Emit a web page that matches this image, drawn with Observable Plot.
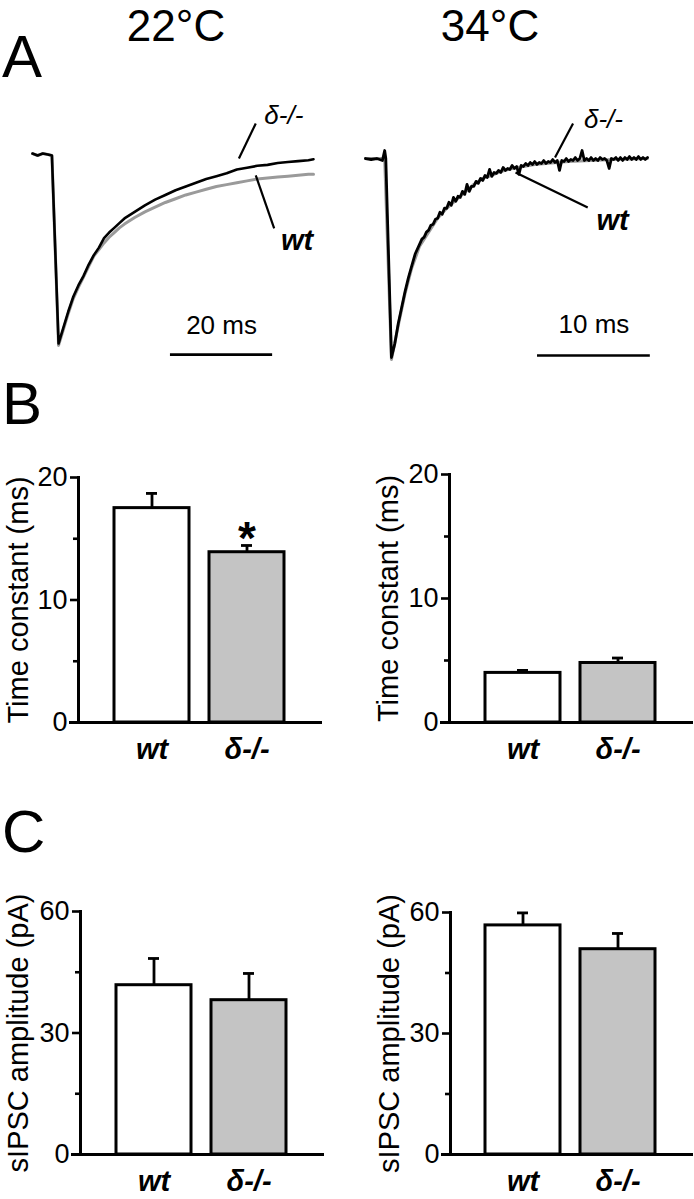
<!DOCTYPE html>
<html>
<head>
<meta charset="utf-8">
<script src="https://cdn.jsdelivr.net/npm/d3@7"></script>
<script src="https://cdn.jsdelivr.net/npm/@observablehq/plot@0.6"></script>
<style>
  html, body { margin: 0; padding: 0; background: white; }
  #fig { position: relative; width: 694px; height: 1199px; overflow: hidden; background: white; }
  .panel { position: absolute; }
  .panel svg { overflow: visible; }
</style>
</head>
<body>
<div id="fig"></div>
<script>
// ---------------- DATA ----------------
const temperatures = ["22°C", "34°C"];
const panelLetters = ["A", "B", "C"];
const genotypes = ["wt", "δ-/-"];

// Panel A: normalized sIPSC traces (time in ms, amplitude normalized to peak = -1)
const traceLeftDeltaT = [0,1,2,3,3.8,5.1,6,7,8,9,10,11,12,13,14,15,16,17,18,20,22,24,26,28,30,32,34,36,38,40,42,44,46,48,50,52,54,55];
const traceLeftDeltaV = [0.01,0,0.01,0.005,0,-1,-0.92,-0.83,-0.75,-0.69,-0.64,-0.58,-0.53,-0.49,-0.44,-0.41,-0.385,-0.36,-0.335,-0.30,-0.265,-0.235,-0.21,-0.185,-0.165,-0.145,-0.125,-0.11,-0.095,-0.075,-0.065,-0.055,-0.05,-0.04,-0.035,-0.03,-0.025,-0.02];
const traceLeftWtT = [0,1,2,3,3.8,5.1,6,7,8,9,10,11,12,13,14,15,16,17,18,20,22,24,26,28,30,32,34,36,38,40,42,44,46,48,50,52,54,55];
const traceLeftWtV = [0.01,0,0.01,0.005,0,-1.01,-0.93,-0.84,-0.76,-0.70,-0.645,-0.59,-0.535,-0.50,-0.465,-0.435,-0.41,-0.385,-0.365,-0.33,-0.30,-0.275,-0.25,-0.23,-0.21,-0.195,-0.18,-0.165,-0.155,-0.145,-0.135,-0.125,-0.12,-0.115,-0.11,-0.105,-0.10,-0.10];

const traceRightDeltaT = [0,0.5,1,1.5,1.7,1.8,2.3,2.6,2.9,3.2,3.5,3.8,4.1,4.4,
  4.8,5,5.2,5.4,5.6,5.8,6,6.2,6.4,6.6,6.8,7,7.2,7.4,7.6,7.8,8,8.2,8.4,8.6,8.8,9,9.2,9.4,9.6,9.8,
  10,10.2,10.4,10.6,10.8,11,11.2,11.4,11.6,11.8,12,12.2,12.4,12.6,12.8,13,13.2,13.4,13.6,13.8,
  14,14.2,14.4,14.6,14.8,15,15.2,15.4,15.6,15.8,16,16.2,16.4,16.6,16.8,17,17.2,17.4,17.6,17.8,
  18,18.2,18.4,18.6,18.8,19,19.2,19.4,19.6,19.8,20,20.2,20.4,20.6,20.8,21,21.2,21.4,21.6,21.8,
  22,22.2,22.4,22.6,22.8,23,23.2,23.4,23.6,23.8,24,24.2,24.4,24.6,24.8,25];
const traceRightDeltaV = [0,-0.005,0,-0.01,0.04,0,-1,-0.93,-0.83,-0.75,-0.67,-0.60,-0.54,-0.48,
  -0.43,-0.405,-0.395,-0.37,-0.36,-0.335,-0.33,-0.305,-0.3,-0.27,-0.28,-0.25,-0.25,-0.22,-0.235,-0.195,-0.215,-0.19,-0.195,-0.165,-0.18,-0.13,-0.165,-0.14,-0.14,-0.115,
  -0.125,-0.1,-0.11,-0.085,-0.095,-0.055,-0.09,-0.07,-0.075,-0.06,-0.07,-0.045,-0.06,-0.05,-0.055,-0.035,-0.05,-0.04,-0.08,-0.035,
  -0.04,-0.025,-0.035,-0.02,-0.03,-0.015,-0.03,-0.02,-0.025,-0.01,-0.025,-0.015,-0.02,-0.005,-0.02,-0.01,-0.06,-0.01,-0.015,0,
  -0.015,-0.005,-0.01,0.005,-0.01,0,0.04,-0.01,0,-0.01,0.005,-0.01,0,-0.01,0.005,-0.005,0,-0.01,-0.05,0,
  -0.005,0.005,-0.01,0.005,-0.01,0.005,-0.005,0.01,-0.005,0.005,-0.005,0.01,-0.005,0.005,-0.005,0.005];
const traceRightWtT = [0,1,1.7,2.3,2.9,3.5,4.1,4.8,5.6,6.4,7.2,8,8.8,9.6,10.4,11.2,12,13,14,15,16,18,20,22,25];
const traceRightWtV = [0,0,0,-1.01,-0.84,-0.68,-0.55,-0.44,-0.37,-0.30,-0.25,-0.21,-0.17,-0.13,-0.10,-0.085,-0.065,-0.05,-0.04,-0.03,-0.025,-0.015,-0.01,-0.005,0];

// Scale bars (ms): length, start, level; label level
const scaleBarMs = [20, 10];
const scaleBarStart = [27, 15.25];
const scaleBarLevel = [-1.059, -0.99];
const scaleLabelLevel = [-0.947, -0.879];

// Trace annotations (data units): label position and pointer ends
const annotLeft = {
  labels: [{t: 49.2, v: 0.213, text: "δ-/-", g: "δ-/-"}, {t: 51.8, v: -0.452, text: "wt", g: "wt"}],
  pointers: [{t1: 43.7, v1: 0.170, t2: 40.4, v2: -0.016}, {t1: 43.7, v1: -0.106, t2: 47.3, v2: -0.388}]
};
const annotRight = {
  labels: [{t: 21.1, v: 0.196, text: "δ-/-", g: "δ-/-"}, {t: 21.9, v: -0.312, text: "wt", g: "wt"}],
  pointers: [{t1: 18.4, v1: 0.176, t2: 16.8, v2: 0.005}, {t1: 13.3, v1: -0.070, t2: 19.7, v2: -0.246}]
};

// Panel B: decay time constant (ms), mean and SEM
const tau22 = [17.5, 13.9];
const tau22Sem = [1.2, 0.55];
const tau34 = [4.0, 4.8];
const tau34Sem = [0.2, 0.4];
const tauStars22 = ["", "*"];
const tauStars34 = ["", ""];
const tauMajorTicks = [0, 10, 20];
const tauMinorTicks = [5, 15];

// Panel C: sIPSC amplitude (pA), mean and SEM
const amp22 = [41.8, 38.1];
const amp22Sem = [6.6, 6.6];
const amp34 = [56.8, 50.9];
const amp34Sem = [3.1, 3.9];
const ampMajorTicks = [0, 30, 60];
const ampMinorTicks = [15, 45];

// ---------------- STYLE ----------------
const FONT = "'Liberation Sans', Arial, Helvetica, sans-serif";
const barFills = ["white", "#c4c4c4"];
const fig = document.getElementById("fig");

function place(node, left, top) {
  const wrap = document.createElement("div");
  wrap.className = "panel";
  wrap.style.left = left + "px";
  wrap.style.top = top + "px";
  wrap.appendChild(node);
  fig.appendChild(wrap);
}

// ---------------- PANEL A ----------------
function tracePanel({left, top, width, height, mL, mR, mT, mB, xDomain, yDomain, dT, dV, wT, wV, idx, annot, dWidth}) {
  const delta = dT.map((t, i) => ({t, v: dV[i]}));
  const wt = wT.map((t, i) => ({t, v: wV[i]}));
  const bar = [{x1: scaleBarStart[idx], x2: scaleBarStart[idx] + scaleBarMs[idx], y: scaleBarLevel[idx]}];
  const barLabel = [{x: scaleBarStart[idx] + scaleBarMs[idx] / 2, y: scaleLabelLevel[idx], text: `${scaleBarMs[idx]} ms`}];
  const p = Plot.plot({
    width, height, marginLeft: mL, marginRight: mR, marginTop: mT, marginBottom: mB,
    style: {fontFamily: FONT, background: "transparent", color: "black", overflow: "visible"},
    x: {domain: xDomain, axis: null},
    y: {domain: yDomain, axis: null},
    marks: [
      Plot.line(wt, {x: "t", y: "v", stroke: "#9a9a9a", strokeWidth: 3}),
      Plot.line(delta, {x: "t", y: "v", stroke: "black", strokeWidth: dWidth, strokeLinejoin: "round"}),
      Plot.ruleY(bar, {x1: "x1", x2: "x2", y: "y", stroke: "black", strokeWidth: 2.6}),
      Plot.text(barLabel, {x: "x", y: "y", text: "text", fontSize: 26, lineAnchor: "bottom", fill: "black"}),
      Plot.link(annot.pointers, {x1: "t1", y1: "v1", x2: "t2", y2: "v2", stroke: "black", strokeWidth: 2.2}),
      Plot.text(annot.labels.filter(d => d.g !== "wt"), {x: "t", y: "v", text: "text", fontSize: 26, fontStyle: "italic", fill: "black"}),
      Plot.text(annot.labels.filter(d => d.g === "wt"), {x: "t", y: "v", text: "text", fontSize: 29, fontStyle: "italic", fontWeight: "bold", fill: "black"})
    ]
  });
  place(p, left, top);
}

tracePanel({left: 0, top: 90, width: 347, height: 280, mL: 32, mR: 34, mT: 8, mB: 5,
  xDomain: [0, 55], yDomain: [-1.117, 0.303], dWidth: 2.6,
  dT: traceLeftDeltaT, dV: traceLeftDeltaV, wT: traceLeftWtT, wV: traceLeftWtV, idx: 0, annot: annotLeft});
tracePanel({left: 347, top: 90, width: 347, height: 280, mL: 18, mR: 47, mT: 8, mB: 5,
  xDomain: [0, 25], yDomain: [-1.04, 0.3015], dWidth: 2.8,
  dT: traceRightDeltaT, dV: traceRightDeltaV, wT: traceRightWtT, wV: traceRightWtV, idx: 1, annot: annotRight});

// ---------------- PANELS B & C ----------------
function barPanel({left, top, width, height, mL, mR, mT, mB, yMax, values, sems, stars, major, minor, label, labelDx}) {
  const data = genotypes.map((g, i) => ({g, value: values[i], top: values[i] + sems[i], star: stars ? stars[i] : ""}));
  const p = Plot.plot({
    width, height, marginLeft: mL, marginRight: mR, marginTop: mT, marginBottom: mB,
    style: {fontFamily: FONT, fontSize: "27px", background: "transparent", color: "black", overflow: "visible"},
    x: {type: "band", domain: genotypes, paddingInner: 0.208, paddingOuter: 0.365, axis: null},
    y: {domain: [0, yMax], axis: null},
    color: {domain: genotypes, range: barFills},
    marks: [
      Plot.ruleX(data, {x: "g", y1: "value", y2: "top", stroke: "black", strokeWidth: 2.8}),
      Plot.tickY(data, {x: "g", y: "top", stroke: "black", strokeWidth: 2.8, inset: 32}),
      Plot.barY(data, {x: "g", y: "value", fill: "g", stroke: "black", strokeWidth: 3}),
      Plot.text(data.filter(d => d.star), {x: "g", y: "top", text: "star", fontSize: 46, fontWeight: "bold", dy: -6, fill: "black"}),
      Plot.ruleY([0], {stroke: "black", strokeWidth: 3, insetLeft: -9, insetRight: -2}),
      Plot.frame({anchor: "left", stroke: "black", strokeWidth: 3}),
      Plot.axisY({ticks: major, tickSize: 8, tickPadding: 3, stroke: "black", strokeWidth: 2.6, fontSize: 27, fill: "black"}),
      Plot.axisY({ticks: minor, tickSize: 5, tickFormat: () => "", stroke: "black", strokeWidth: 2.6}),
      Plot.axisX({tickSize: 0, tickPadding: 16, fontSize: 29, fontStyle: "italic", fontWeight: "bold", fill: "black", label: null}),
      Plot.text([label], {frameAnchor: "left", textAnchor: "middle", lineAnchor: "middle", dx: labelDx, rotate: -90, text: d => d, fontSize: 29, fill: "black"})
    ]
  });
  place(p, left, top);
}

barPanel({left: 0, top: 440, width: 340, height: 340, mL: 78, mR: 20, mT: 37, mB: 58, yMax: 20,
  values: tau22, sems: tau22Sem, stars: tauStars22, major: tauMajorTicks, minor: tauMinorTicks,
  label: "Time constant (ms)", labelDx: -60});
barPanel({left: 371, top: 440, width: 323, height: 340, mL: 78, mR: 3, mT: 34, mB: 58, yMax: 20,
  values: tau34, sems: tau34Sem, stars: tauStars34, major: tauMajorTicks, minor: tauMinorTicks,
  label: "Time constant (ms)", labelDx: -61});
barPanel({left: 0, top: 870, width: 340, height: 329, mL: 80, mR: 18, mT: 41, mB: 45, yMax: 60,
  values: amp22, sems: amp22Sem, stars: null, major: ampMajorTicks, minor: ampMinorTicks,
  label: "sIPSC amplitude (pA)", labelDx: -62});
barPanel({left: 372, top: 870, width: 322, height: 329, mL: 78, mR: 3, mT: 42, mB: 45, yMax: 60,
  values: amp34, sems: amp34Sem, stars: null, major: ampMajorTicks, minor: ampMinorTicks,
  label: "sIPSC amplitude (pA)", labelDx: -61});

// ---------------- TITLES & PANEL LETTERS ----------------
const overlay = d3.create("svg").attr("width", 694).attr("height", 1199)
  .style("position", "absolute").style("left", "0px").style("top", "0px")
  .style("font-family", FONT).style("pointer-events", "none");
overlay.selectAll("text.title").data(temperatures).join("text")
  .attr("class", "title")
  .attr("x", (d, i) => [176, 490][i]).attr("y", 41)
  .attr("text-anchor", "middle").attr("font-size", 44).text(d => d);
overlay.selectAll("text.letter").data(panelLetters).join("text")
  .attr("class", "letter")
  .attr("x", 2).attr("y", (d, i) => [77, 424, 852][i])
  .attr("font-size", 60).text(d => d);
fig.appendChild(overlay.node());
</script>
</body>
</html>
